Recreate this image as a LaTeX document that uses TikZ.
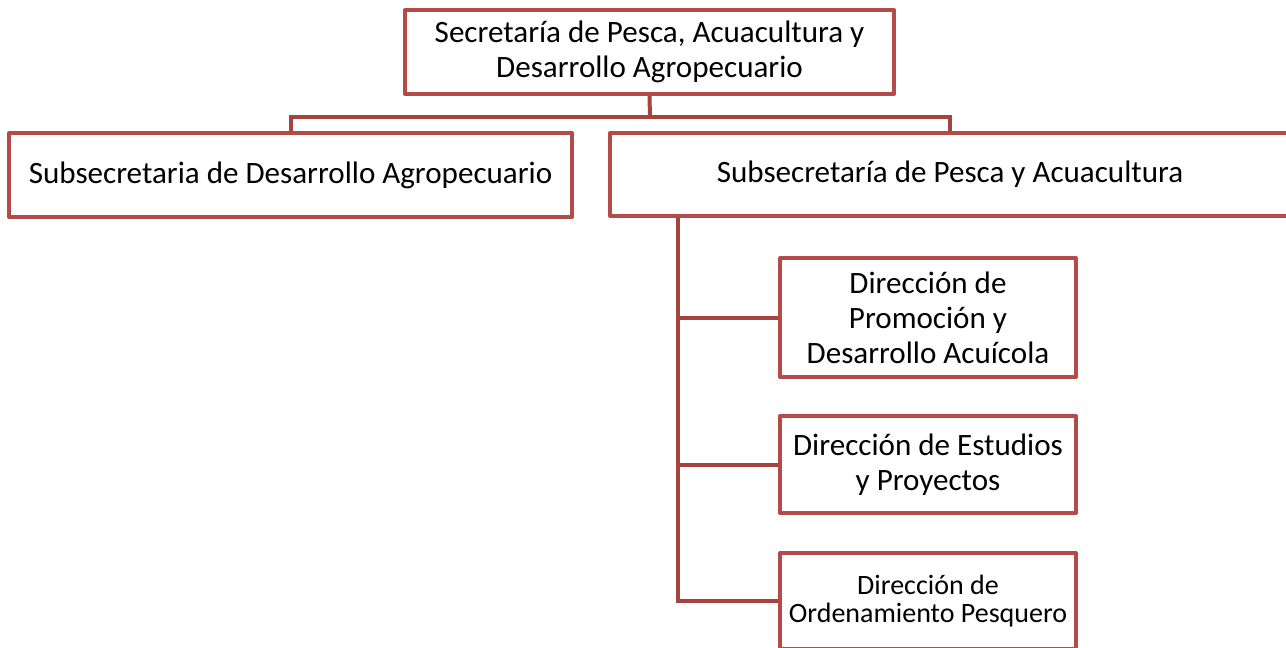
\documentclass[tikz,border=0pt]{standalone}
\usepackage{fontspec}
\setmainfont{Carlito}
\definecolor{boxred}{HTML}{B34C49}
\definecolor{linkred}{HTML}{A5433F}
\begin{document}
\begin{tikzpicture}[x=0.75pt,y=-0.75pt,
  orgbox/.style={draw=boxred, line width=3pt, fill=white, inner sep=0pt, align=center,
    font=\fontsize{23.3}{26.25}\selectfont, line join=round},
  link/.style={draw=linkred, line width=3pt}]
\useasboundingbox (0,0) rectangle (1286,647);
\node[orgbox, minimum width=489*0.75pt, minimum height=84*0.75pt] (top) at (649.5,52)
  {Secretaría de Pesca, Acuacultura y\\Desarrollo Agropecuario};
\node[orgbox, minimum width=563*0.75pt, minimum height=84*0.75pt] (left) at (290.5,175)
  {Subsecretaria de Desarrollo Agropecuario};
\node[orgbox, minimum width=680*0.75pt, minimum height=83*0.75pt] (right) at (950,174.5)
  {Subsecretaría de Pesca y Acuacultura};
\node[orgbox, minimum width=296*0.75pt, minimum height=119*0.75pt] (c1) at (928,317.5)
  {Dirección de\\Promoción y\\Desarrollo Acuícola};
\node[orgbox, minimum width=296*0.75pt, minimum height=97*0.75pt] (c2) at (928,464.5)
  {Dirección de Estudios\\y Proyectos};
\node[orgbox, minimum width=296*0.75pt, minimum height=96*0.75pt,
  font=\fontsize{21}{21}\selectfont] (c3) at (928,601)
  {Dirección de\\Ordenamiento Pesquero};
\coordinate (bus) at (650,117);
\coordinate (trunk) at ([xshift=70*0.75pt]right.south west);
\draw[link] (top.south) -- (bus);
\draw[link] (bus) -| (left.north);
\draw[link] (bus) -| (right.north);
\draw[link] (trunk) |- (c1.west);
\draw[link] (trunk) |- (c2.west);
\draw[link] (trunk) |- (c3.west);
\end{tikzpicture}
\end{document}
